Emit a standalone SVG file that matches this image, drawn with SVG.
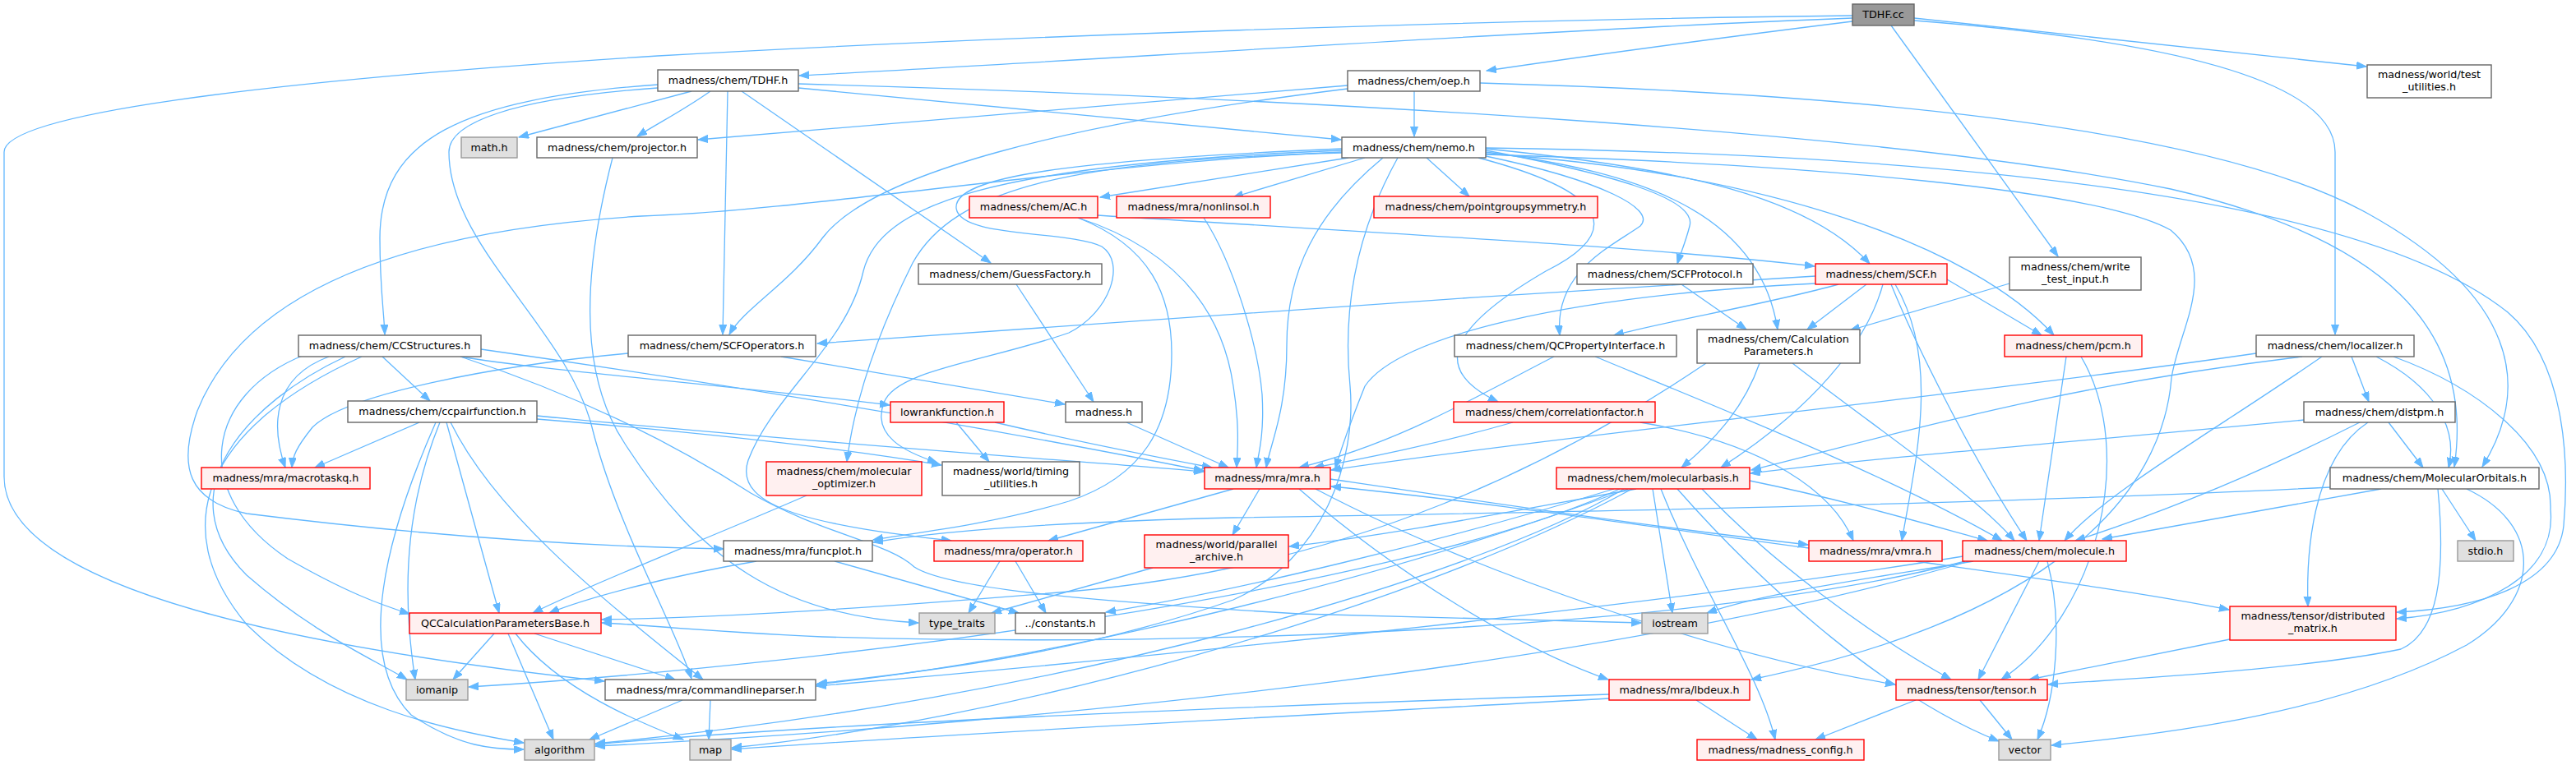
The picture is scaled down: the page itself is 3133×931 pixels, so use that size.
<svg xmlns="http://www.w3.org/2000/svg" width="3133" height="931" viewBox="0 0 3133 931">
<defs>
<style>
.n rect{fill:#ffffff;stroke:#666666;stroke-width:1.4}
.r rect{fill:#fff0f0;stroke:#ff0000;stroke-width:1.4}
.g rect{fill:#e0e0e0;stroke:#999999;stroke-width:1.4}
.d rect{fill:#999999;stroke:#666666;stroke-width:1.4}
text{font-family:"DejaVu Sans","Liberation Sans",sans-serif;font-size:12.7px;fill:#000000;text-anchor:middle}
#edges path{fill:none;stroke:#63b8ff;stroke-width:1.3;marker-end:url(#a)}
</style>
<marker id="a" markerWidth="13" markerHeight="10" refX="12" refY="4.5" orient="auto" markerUnits="userSpaceOnUse"><path d="M0,0 L12,4.5 L0,9 z" fill="#63b8ff" stroke="#63b8ff" stroke-width="1"/></marker>
</defs>
<rect width="3133" height="931" fill="#ffffff"/>
<g id="edges">
<path d="M2253,22 C1900,35 1300,75 972,92"/>
<path d="M2253,26 C2100,45 1950,65 1808,86"/>
<path d="M2253,19 C1800,24 1200,45 800,68 C300,100 5,140 5,185 L5,580 C5,720 380,790 735,829"/>
<path d="M2300,31 L2503,312"/>
<path d="M2328,22 L2878,81"/>
<path d="M2328,25 C2650,50 2840,100 2840,185 L2840,407"/>
<path d="M800,103 C560,120 462,170 462,290 C462,350 467,380 468,407"/>
<path d="M800,107 C620,120 546,150 546,185 C546,300 690,400 720,520 C750,640 820,760 841,826"/>
<path d="M841,111 L631,167"/>
<path d="M864,111 C830,135 800,150 775,166"/>
<path d="M885,111 L879,407"/>
<path d="M902,111 L1205,320"/>
<path d="M971,107 L1631,170"/>
<path d="M971,102 C1600,120 2300,160 2640,230 C2900,290 3010,400 2985,568"/>
<path d="M1720,111 L1720,166"/>
<path d="M1639,104 L849,170"/>
<path d="M1639,108 C1300,150 1060,210 1000,290 C960,345 905,375 887,407"/>
<path d="M1800,101 C2300,115 2700,160 2880,260 C3060,360 3080,470 3019,568"/>
<path d="M1640,192 L1338,240"/>
<path d="M1660,192 L1500,240"/>
<path d="M1735,192 L1787,239"/>
<path d="M1807,183 C1950,210 2065,240 2055,275 C2050,295 2045,305 2040,321"/>
<path d="M1807,181 C2050,205 2200,240 2274,321"/>
<path d="M1807,190 C1950,220 2015,255 1995,275 C1960,300 1890,330 1897,408"/>
<path d="M1807,185 C2000,210 2140,260 2162,401"/>
<path d="M1798,192 C1980,240 1960,290 1880,330 C1760,400 1740,450 1822,489"/>
<path d="M1632,186 C1300,195 1160,230 1110,320 C1070,400 1040,480 1030,562"/>
<path d="M1632,183 C1200,200 1070,250 1050,330 C1030,420 940,480 910,560 C890,620 1000,640 1157,658"/>
<path d="M1632,181 C1300,195 1160,215 1163,253 C1166,290 1300,280 1340,300 C1370,320 1350,380 1300,405 C1200,440 1090,450 1075,490 C1060,530 1100,550 1140,563"/>
<path d="M1682,192 C1600,260 1565,330 1565,420 C1565,500 1545,540 1540,569"/>
<path d="M1700,192 C1640,300 1635,400 1642,470 C1650,560 1610,680 1500,730 C1300,800 1100,820 994,832"/>
<path d="M1632,185 C1300,200 1000,255 780,263 C500,280 300,350 240,500 C215,570 230,610 300,625 C500,650 700,665 880,668"/>
<path d="M1807,188 C2200,200 2550,230 2640,280 C2700,330 2650,400 2641,460 C2630,600 2500,750 2130,827"/>
<path d="M1807,187 C2150,210 2400,300 2498,408"/>
<path d="M1807,180 C2500,190 2900,260 3050,380 C3120,440 3125,560 3118,640 C3110,710 3020,740 2915,745"/>
<path d="M1335,262 C1700,285 2000,300 2207,324"/>
<path d="M1311,265 C1400,300 1425,360 1425,430 C1425,520 1390,580 1300,610 C1200,640 1100,650 1062,657"/>
<path d="M1311,265 C1450,310 1490,400 1500,470 C1508,520 1505,550 1504,569"/>
<path d="M1464,265 C1500,320 1530,420 1535,480 C1538,530 1530,555 1528,569"/>
<path d="M1236,346 L1330,489"/>
<path d="M2045,346 L2124,401"/>
<path d="M2208,336 C1800,360 1300,395 994,418"/>
<path d="M2236,346 C2150,370 2030,390 1963,408"/>
<path d="M2270,346 L2198,401"/>
<path d="M2368,340 L2483,408"/>
<path d="M2290,346 C2270,420 2200,500 2093,569"/>
<path d="M2208,345 C1900,360 1700,410 1660,470 C1640,520 1630,550 1624,570"/>
<path d="M2300,346 C2330,420 2400,560 2465,658"/>
<path d="M2305,346 C2360,440 2330,560 2313,658"/>
<path d="M2444,345 L2250,402"/>
<path d="M465,434 L523,488"/>
<path d="M560,434 C650,450 900,470 1082,493"/>
<path d="M400,434 C330,460 330,520 347,569"/>
<path d="M370,432 C250,480 230,600 350,680 C420,720 460,735 498,747"/>
<path d="M420,434 C300,490 200,600 300,700 C380,770 450,800 495,827"/>
<path d="M440,434 C250,520 200,640 300,760 C400,860 550,890 637,904"/>
<path d="M585,425 C900,470 1200,520 1464,573"/>
<path d="M560,434 C700,480 820,540 913,600 C1000,650 1080,660 1112,690 C1150,715 1300,730 1580,747 C1800,752 1900,756 1996,758"/>
<path d="M950,434 C1100,460 1200,475 1295,492"/>
<path d="M764,430 C600,445 420,480 380,520 C360,545 356,555 355,569"/>
<path d="M510,514 L383,569"/>
<path d="M543,514 L607,746"/>
<path d="M535,514 C500,600 485,700 505,827"/>
<path d="M530,514 C470,650 430,800 500,870 C560,910 600,912 637,912"/>
<path d="M653,506 C1000,540 1300,560 1464,574"/>
<path d="M653,510 C900,530 1050,550 1145,566"/>
<path d="M548,514 C600,620 720,720 855,827"/>
<path d="M745,192 C712,320 700,450 760,540 C850,680 950,750 1117,758"/>
<path d="M1163,514 L1203,562"/>
<path d="M1210,514 C1300,535 1400,555 1474,569"/>
<path d="M1370,514 L1494,569"/>
<path d="M1890,434 C1800,480 1700,540 1580,569"/>
<path d="M1940,434 C2100,500 2300,580 2435,658"/>
<path d="M2140,442 C2120,500 2080,540 2045,569"/>
<path d="M2180,442 C2280,520 2400,600 2450,658"/>
<path d="M2075,442 C1900,560 1650,690 1300,720 C1000,745 850,752 732,754"/>
<path d="M2390,683 C2100,760 1500,790 1000,775 C850,768 780,760 732,758"/>
<path d="M2860,434 L2881,489"/>
<path d="M2890,434 C2960,470 2990,520 2978,569"/>
<path d="M2800,434 C2500,470 2300,530 2130,572"/>
<path d="M2824,434 C2700,520 2560,600 2511,658"/>
<path d="M2744,430 C2400,480 1900,530 1619,572"/>
<path d="M2911,434 C3010,470 3105,540 3102,620 C3110,700 3020,745 2915,753"/>
<path d="M2905,514 L2947,569"/>
<path d="M2870,514 C2700,600 2580,640 2524,658"/>
<path d="M2880,514 C2810,560 2805,680 2807,738"/>
<path d="M2802,511 C2500,540 2300,555 2129,576"/>
<path d="M2896,595 L2557,656"/>
<path d="M2970,595 L3011,658"/>
<path d="M2965,595 C2975,700 2965,770 2920,790 C2800,815 2600,825 2491,833"/>
<path d="M3000,595 C3095,640 3090,730 3000,785 C2850,865 2650,892 2495,907"/>
<path d="M2834,593 C2400,615 1800,625 1500,630 C1300,635 1150,645 1062,660"/>
<path d="M1500,595 L1275,658"/>
<path d="M1532,595 L1499,651"/>
<path d="M1618,583 C1800,610 2000,640 2199,663"/>
<path d="M2200,667 C2000,640 1800,610 1619,592"/>
<path d="M1580,595 C1700,700 1850,790 1956,827"/>
<path d="M1600,595 C1800,700 2100,800 2305,833"/>
<path d="M2330,683 C2450,700 2600,720 2711,742"/>
<path d="M1990,595 C1850,620 1700,650 1568,665"/>
<path d="M1963,595 C1750,660 1500,720 1345,745"/>
<path d="M2010,595 L2034,746"/>
<path d="M2070,595 C2150,680 2270,770 2373,827"/>
<path d="M2020,595 C2070,720 2140,820 2159,900"/>
<path d="M2040,595 C2150,720 2300,850 2431,902"/>
<path d="M1975,595 C1800,700 1300,850 724,905"/>
<path d="M1980,595 C1700,700 1300,800 993,833"/>
<path d="M1970,595 C1700,720 1000,810 570,836"/>
<path d="M1985,595 C1700,750 1200,880 890,910"/>
<path d="M2128,585 C2250,610 2350,640 2417,658"/>
<path d="M2400,683 C2300,700 2150,720 2076,746"/>
<path d="M2480,683 L2406,827"/>
<path d="M2490,683 C2510,760 2500,850 2478,900"/>
<path d="M2400,675 C2000,740 1400,800 993,835"/>
<path d="M2395,683 C2000,800 1300,880 724,908"/>
<path d="M2513,434 L2480,658"/>
<path d="M2531,434 C2600,550 2550,750 2434,827"/>
<path d="M2712,778 L2468,827"/>
<path d="M2330,852 L2208,900"/>
<path d="M2408,852 L2447,900"/>
<path d="M2063,852 L2137,900"/>
<path d="M1957,850 C1600,870 1200,890 890,912"/>
<path d="M1957,845 C1500,860 1000,880 724,906"/>
<path d="M601,771 L551,827"/>
<path d="M618,771 L673,900"/>
<path d="M627,771 C680,840 780,880 831,900"/>
<path d="M650,771 L821,827"/>
<path d="M864,852 L862,900"/>
<path d="M830,852 L717,900"/>
<path d="M1216,683 L1178,746"/>
<path d="M1235,683 L1272,746"/>
<path d="M1402,691 L1206,746"/>
<path d="M1015,683 L1239,746"/>
<path d="M920,683 C820,700 720,725 668,746"/>
<path d="M981,603 C850,660 720,710 648,746"/>
<path d="M1840,514 C1750,540 1650,560 1598,569"/>
<path d="M1995,514 C2150,540 2230,600 2254,658"/>
</g>
<g id="n_tdhfcc" class="d"><rect x="2253" y="5" width="75" height="26"/><text x="2290.5" y="22">TDHF.cc</text></g>
<g id="n_tdhfh" class="n"><rect x="800" y="85" width="171" height="26"/><text x="885.5" y="102">madness/chem/TDHF.h</text></g>
<g id="n_oep" class="n"><rect x="1639" y="86" width="161" height="25"/><text x="1719.5" y="103">madness/chem/oep.h</text></g>
<g id="n_testutil" class="n"><rect x="2879" y="79" width="151" height="40"/><text x="2954.5" y="95">madness/world/test</text><text x="2954.5" y="110">_utilities.h</text></g>
<g id="n_math" class="g"><rect x="561" y="167" width="68" height="25"/><text x="595" y="184">math.h</text></g>
<g id="n_projector" class="n"><rect x="653" y="167" width="195" height="25"/><text x="750.5" y="184">madness/chem/projector.h</text></g>
<g id="n_nemo" class="n"><rect x="1632" y="167" width="175" height="25"/><text x="1719.5" y="184">madness/chem/nemo.h</text></g>
<g id="n_ac" class="r"><rect x="1179" y="239" width="156" height="26"/><text x="1257" y="256">madness/chem/AC.h</text></g>
<g id="n_nonlinsol" class="r"><rect x="1358" y="239" width="187" height="26"/><text x="1451.5" y="256">madness/mra/nonlinsol.h</text></g>
<g id="n_pointgroup" class="r"><rect x="1671" y="239" width="272" height="26"/><text x="1807" y="256">madness/chem/pointgroupsymmetry.h</text></g>
<g id="n_guess" class="n"><rect x="1117" y="321" width="223" height="25"/><text x="1228.5" y="338">madness/chem/GuessFactory.h</text></g>
<g id="n_scfprotocol" class="n"><rect x="1918" y="321" width="214" height="25"/><text x="2025" y="338">madness/chem/SCFProtocol.h</text></g>
<g id="n_scf" class="r"><rect x="2208" y="321" width="160" height="25"/><text x="2288" y="338">madness/chem/SCF.h</text></g>
<g id="n_writetest" class="n"><rect x="2444" y="313" width="160" height="40"/><text x="2524" y="329">madness/chem/write</text><text x="2524" y="344">_test_input.h</text></g>
<g id="n_ccstruct" class="n"><rect x="363" y="408" width="222" height="26"/><text x="474" y="425">madness/chem/CCStructures.h</text></g>
<g id="n_scfops" class="n"><rect x="764" y="408" width="228" height="26"/><text x="878" y="425">madness/chem/SCFOperators.h</text></g>
<g id="n_qcprop" class="n"><rect x="1769" y="408" width="270" height="26"/><text x="1904" y="425">madness/chem/QCPropertyInterface.h</text></g>
<g id="n_calcparams" class="n"><rect x="2064" y="401" width="198" height="41"/><text x="2163" y="417">madness/chem/Calculation</text><text x="2163" y="432">Parameters.h</text></g>
<g id="n_pcm" class="r"><rect x="2438" y="408" width="167" height="26"/><text x="2521.5" y="425">madness/chem/pcm.h</text></g>
<g id="n_localizer" class="n"><rect x="2744" y="408" width="192" height="26"/><text x="2840" y="425">madness/chem/localizer.h</text></g>
<g id="n_ccpair" class="n"><rect x="423" y="488" width="230" height="26"/><text x="538" y="505">madness/chem/ccpairfunction.h</text></g>
<g id="n_lowrank" class="r"><rect x="1083" y="489" width="138" height="25"/><text x="1152" y="506">lowrankfunction.h</text></g>
<g id="n_madness" class="n"><rect x="1296" y="489" width="93" height="25"/><text x="1342.5" y="506">madness.h</text></g>
<g id="n_corrfac" class="r"><rect x="1768" y="489" width="245" height="25"/><text x="1890.5" y="506">madness/chem/correlationfactor.h</text></g>
<g id="n_distpm" class="n"><rect x="2802" y="489" width="184" height="25"/><text x="2894" y="506">madness/chem/distpm.h</text></g>
<g id="n_macrotaskq" class="r"><rect x="245" y="569" width="205" height="26"/><text x="347.5" y="586">madness/mra/macrotaskq.h</text></g>
<g id="n_molopt" class="r"><rect x="932" y="562" width="189" height="41"/><text x="1026.5" y="578">madness/chem/molecular</text><text x="1026.5" y="593">_optimizer.h</text></g>
<g id="n_timing" class="n"><rect x="1146" y="562" width="167" height="41"/><text x="1229.5" y="578">madness/world/timing</text><text x="1229.5" y="593">_utilities.h</text></g>
<g id="n_mra" class="r"><rect x="1465" y="569" width="153" height="26"/><text x="1541.5" y="586">madness/mra/mra.h</text></g>
<g id="n_molbasis" class="r"><rect x="1893" y="569" width="235" height="26"/><text x="2010.5" y="586">madness/chem/molecularbasis.h</text></g>
<g id="n_molorb" class="n"><rect x="2834" y="569" width="254" height="26"/><text x="2961" y="586">madness/chem/MolecularOrbitals.h</text></g>
<g id="n_funcplot" class="n"><rect x="880" y="658" width="181" height="25"/><text x="970.5" y="675">madness/mra/funcplot.h</text></g>
<g id="n_operator" class="r"><rect x="1136" y="658" width="181" height="25"/><text x="1226.5" y="675">madness/mra/operator.h</text></g>
<g id="n_parchive" class="r"><rect x="1392" y="651" width="175" height="40"/><text x="1479.5" y="667">madness/world/parallel</text><text x="1479.5" y="682">_archive.h</text></g>
<g id="n_vmra" class="r"><rect x="2200" y="658" width="162" height="25"/><text x="2281" y="675">madness/mra/vmra.h</text></g>
<g id="n_molecule" class="r"><rect x="2387" y="658" width="199" height="25"/><text x="2486.5" y="675">madness/chem/molecule.h</text></g>
<g id="n_stdio" class="g"><rect x="2989" y="658" width="68" height="25"/><text x="3023" y="675">stdio.h</text></g>
<g id="n_qccalc" class="r"><rect x="498" y="746" width="233" height="25"/><text x="614.5" y="763">QCCalculationParametersBase.h</text></g>
<g id="n_typetraits" class="g"><rect x="1118" y="746" width="92" height="25"/><text x="1164" y="763">type_traits</text></g>
<g id="n_constants" class="n"><rect x="1235" y="746" width="109" height="25"/><text x="1289.5" y="763">../constants.h</text></g>
<g id="n_iostream" class="g"><rect x="1997" y="746" width="80" height="25"/><text x="2037" y="763">iostream</text></g>
<g id="n_distmatrix" class="r"><rect x="2712" y="738" width="202" height="41"/><text x="2813" y="754">madness/tensor/distributed</text><text x="2813" y="769">_matrix.h</text></g>
<g id="n_iomanip" class="g"><rect x="494" y="827" width="75" height="25"/><text x="531.5" y="844">iomanip</text></g>
<g id="n_cmdline" class="n"><rect x="736" y="827" width="256" height="25"/><text x="864" y="844">madness/mra/commandlineparser.h</text></g>
<g id="n_lbdeux" class="r"><rect x="1957" y="827" width="171" height="25"/><text x="2042.5" y="844">madness/mra/lbdeux.h</text></g>
<g id="n_tensor" class="r"><rect x="2306" y="827" width="184" height="25"/><text x="2398" y="844">madness/tensor/tensor.h</text></g>
<g id="n_algorithm" class="g"><rect x="638" y="900" width="85" height="25"/><text x="680.5" y="917">algorithm</text></g>
<g id="n_map" class="g"><rect x="839" y="900" width="50" height="25"/><text x="864" y="917">map</text></g>
<g id="n_config" class="r"><rect x="2064" y="900" width="203" height="25"/><text x="2165.5" y="917">madness/madness_config.h</text></g>
<g id="n_vector" class="g"><rect x="2431" y="900" width="63" height="25"/><text x="2462.5" y="917">vector</text></g>
</svg>
